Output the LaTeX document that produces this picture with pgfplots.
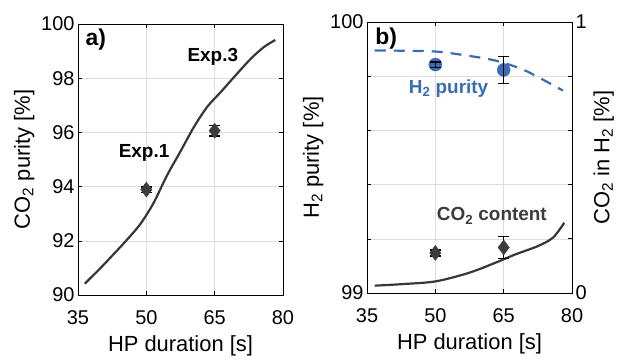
\documentclass[border=0pt]{standalone}
\usepackage{fontspec}
\setmainfont{Liberation Sans}
\usepackage{pgfplots}
\pgfplotsset{compat=1.18}
\definecolor{lineg}{RGB}{55,55,55}
\definecolor{markg}{RGB}{60,60,60}
\definecolor{myblue}{RGB}{58,108,182}
\definecolor{gridg}{RGB}{222,222,222}
\pgfplotsset{
 mystyle/.style={
  scale only axis, width=205bp, height=271bp,
  xmin=35, xmax=80, xtick={35,50,65,80},
  clip=false,
  tick align=inside,
  major tick length=4bp,
  tick style={black, line width=0.6pt},
  axis line style={black, line width=0.8pt},
  tick label style={font=\fontsize{20}{22}\selectfont},
  xticklabel style={yshift=-12bp},
  label style={font=\fontsize{22}{24}\selectfont},
  xlabel style={yshift=-4bp},
  /pgf/number format/assume math mode=true,
  xlabel={HP duration [s]},
 },
 ebar/.style={draw=none, mark=none, forget plot,
  error bars/.cd, y dir=both, y explicit,
  error bar style={draw=black, solid, line width=1.5bp},
  error mark options={rotate=90, draw=black, mark size=5.5bp, line width=1.5bp}},
}
\begin{document}
\begin{tikzpicture}
\useasboundingbox (0,0) rectangle (625bp,360bp);
% ---------- panel a
\begin{axis}[mystyle, at={(78bp,65bp)}, anchor=south west,
  ymin=90, ymax=100, ytick={90,92,...,100},
  grid=major, grid style={gridg, line width=0.6pt},
  ylabel={CO\textsubscript{2} purity [\%]}]
\addplot[lineg, line width=2.2bp, smooth] coordinates {
(36.5,90.42) (39.8,90.97) (42.5,91.45) (45,91.9) (48.6,92.6) (51.6,93.4) (54.5,94.4)
(57.5,95.3) (60.45,96.2) (63.4,96.95) (66.4,97.5) (69.3,98.05) (73,98.73)
(75.9,99.16) (78.3,99.41)};
\addplot[only marks, mark=diamond*, mark size=7.5bp, markg] coordinates {(50,93.89) (65,96.06)};
\addplot[ebar] coordinates {(50,93.89) +- (0,0.1) (65,96.06) +- (0,0.2)};
\node[font=\bfseries\fontsize{19}{21}\selectfont] at (axis cs:49.5,95.25) {Exp.1};
\node[font=\bfseries\fontsize{19}{21}\selectfont] at (axis cs:64.6,98.77) {Exp.3};
\node[font=\bfseries\fontsize{23}{25}\selectfont] at (axis cs:38.9,99.43) {a)};
\end{axis}
% ---------- panel b, left axis
\begin{axis}[mystyle, at={(367bp,67bp)}, anchor=south west,
  ymin=99, ymax=100, ytick={99,99.2,99.4,99.6,99.8,100},
  yticklabels={99,,,,,100}, ytick pos=left,
  grid=major, grid style={gridg, line width=0.6pt},
  ylabel={H\textsubscript{2} purity [\%]}]
\addplot[myblue, line width=2.2bp, dash pattern=on 11bp off 8bp, smooth] coordinates {
(36.7,99.895) (43,99.894) (50.1,99.891) (56.6,99.877) (63.1,99.858) (68.9,99.827)
(73.3,99.79) (78,99.747)};
\addplot[only marks, mark=*, mark size=6.5bp, myblue] coordinates {(50,99.843) (65,99.823)};
\node[font=\bfseries\fontsize{23}{25}\selectfont] at (axis cs:39.2,99.94) {b)};
\node[font=\bfseries\fontsize{19}{21}\selectfont, text=myblue] at (axis cs:52.9,99.755) {H\textsubscript{2} purity};
\end{axis}
% ---------- panel b, right axis
\begin{axis}[mystyle, at={(367bp,67bp)}, anchor=south west,
  axis x line=none, axis y line*=right, xlabel={},
  ymin=0, ymax=1, ytick={0,0.2,0.4,0.6,0.8,1}, yticklabels={0,,,,,1},
  ylabel={CO\textsubscript{2} in H\textsubscript{2} [\%]}]
\addplot[lineg, line width=2.2bp, smooth] coordinates {
(36.7,0.027) (43,0.033) (50.1,0.043) (57.3,0.074) (63.1,0.111) (67.5,0.142)
(72.5,0.173) (75.8,0.204) (78.3,0.259)};
\addplot[only marks, mark=diamond*, mark size=7.5bp, markg] coordinates {(50,0.148) (65,0.168)};
\addplot[ebar] coordinates {(50,0.148) +- (0,0.011) (65,0.168) +- (0,0.041)};
% H2 purity error bars (purity - 99, on this 0..1 scale)
\addplot[ebar] coordinates {(50,0.843) +- (0,0.01) (65,0.823) +- (0,0.05)};
\node[font=\bfseries\fontsize{19}{21}\selectfont, text=markg] at (axis cs:62.4,0.284) {CO\textsubscript{2} content};
\end{axis}
\end{tikzpicture}
\end{document}
